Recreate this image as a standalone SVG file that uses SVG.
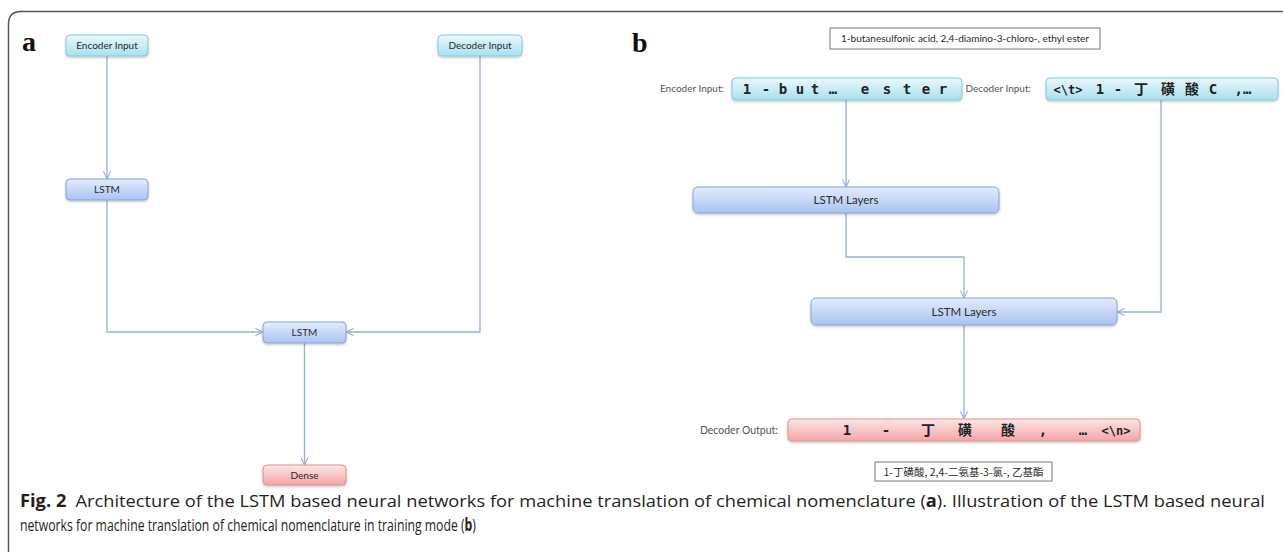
<svg xmlns="http://www.w3.org/2000/svg" width="1283" height="552" viewBox="0 0 1283 552">
<style>
.lbl{font-family:Lato,"Open Sans","Noto Sans CJK SC",sans-serif;font-size:10px;fill:#2a2a2a;text-anchor:middle}
.side{font-family:Lato,"Open Sans",sans-serif;font-size:10px;fill:#555;text-anchor:end}
.seq{font-family:"DejaVu Sans Mono","Noto Sans CJK SC",monospace;font-weight:bold;font-size:14px;fill:#222;text-anchor:middle}
.conn{fill:none;stroke:#93b1dd;stroke-width:1.3}
.panel{font-family:"Liberation Serif",serif;font-weight:bold;font-size:28px;fill:#111}
.cap{font-family:"Open Sans","Liberation Sans",sans-serif;font-size:17px;fill:#231f20}
.plain{fill:#fff;stroke:#777;stroke-width:1}
</style>
<defs>
<linearGradient id="gIn" x1="0" y1="0" x2="0" y2="1"><stop offset="0" stop-color="#eaf9fd"/><stop offset="1" stop-color="#a8e0ef"/></linearGradient>
<linearGradient id="gL" x1="0" y1="0" x2="0" y2="1"><stop offset="0" stop-color="#e4ecfc"/><stop offset="1" stop-color="#a9c3f1"/></linearGradient>
<linearGradient id="gR" x1="0" y1="0" x2="0" y2="1"><stop offset="0" stop-color="#fde6e6"/><stop offset="1" stop-color="#f3a5a5"/></linearGradient>
<filter id="sh" x="-10%" y="-30%" width="120%" height="170%"><feDropShadow dx="0" dy="1.2" stdDeviation="1" flood-color="#000" flood-opacity="0.25"/></filter>
<marker id="ar" viewBox="0 0 10 10" refX="9.5" refY="5" markerWidth="8" markerHeight="8" markerUnits="userSpaceOnUse" orient="auto"><path d="M0,0.5 L9.5,5 L0,9.5" fill="none" stroke="#93b1dd" stroke-width="1.4"/></marker>
</defs>
<rect width="1283" height="552" fill="#fff"/>
<path d="M8.5 552 V24 Q8.5 11.5 21 11.5 H1283" fill="none" stroke="#555" stroke-width="1.5"/>
<text class="panel" x="22" y="51">a</text>
<text class="panel" x="632" y="52">b</text>

<g id="connectors">
<path class="conn" d="M107 56 V179" marker-end="url(#ar)"/>
<path class="conn" d="M107 200 V332 H263" marker-end="url(#ar)"/>
<path class="conn" d="M480 56 V332 H346" marker-end="url(#ar)"/>
<path class="conn" d="M304.5 343 V465" marker-end="url(#ar)"/>
<path class="conn" d="M846 100 V187" marker-end="url(#ar)"/>
<path class="conn" d="M846 213 V257 H964 V298" marker-end="url(#ar)"/>
<path class="conn" d="M1161 100 V312 H1117" marker-end="url(#ar)"/>
<path class="conn" d="M964 325 V419" marker-end="url(#ar)"/>
</g>

<g id="a-encoder-input"><rect x="66" y="35" width="82" height="21" rx="4" fill="url(#gIn)" stroke="#86c9dc" filter="url(#sh)"/><text class="lbl" x="107" y="49">Encoder Input</text></g>
<g id="a-decoder-input"><rect x="438" y="35" width="84" height="21" rx="4" fill="url(#gIn)" stroke="#86c9dc" filter="url(#sh)"/><text class="lbl" x="480" y="49">Decoder Input</text></g>
<g id="a-lstm1"><rect x="66" y="179" width="82" height="21" rx="4" fill="url(#gL)" stroke="#86a5da" filter="url(#sh)"/><text class="lbl" x="107" y="193">LSTM</text></g>
<g id="a-lstm2"><rect x="263" y="322" width="83" height="21" rx="4" fill="url(#gL)" stroke="#86a5da" filter="url(#sh)"/><text class="lbl" x="304.5" y="336">LSTM</text></g>
<g id="a-dense"><rect x="263" y="465" width="83" height="20" rx="4" fill="url(#gR)" stroke="#e39090" filter="url(#sh)"/><text class="lbl" x="304.5" y="479">Dense</text></g>

<g id="b-source"><rect class="plain" x="830" y="28" width="270" height="21"/><text class="lbl" x="965" y="42" textLength="248" lengthAdjust="spacingAndGlyphs" style="font-size:9.5px">1-butanesulfonic acid, 2,4-diamino-3-chloro-, ethyl ester</text></g>

<g id="b-encoder-input"><text class="side" x="724" y="92">Encoder Input:</text><rect x="732" y="78" width="230" height="22" rx="4" fill="url(#gIn)" stroke="#86c9dc" filter="url(#sh)"/><text class="seq" y="94" x="747 766 783 800 815 833 865 887 907 926 943">1-but…ester</text></g>

<g id="b-decoder-input"><text class="side" x="1031" y="92">Decoder Input:</text><rect x="1046" y="78" width="232" height="22" rx="4" fill="url(#gIn)" stroke="#86c9dc" filter="url(#sh)"/><text class="seq" y="94"><tspan x="1068" style="font-size:12px">&lt;\t&gt;</tspan><tspan x="1100">1</tspan><tspan x="1118">-</tspan><tspan x="1141">丁</tspan><tspan x="1168">磺</tspan><tspan x="1192">酸</tspan><tspan x="1213">C</tspan><tspan x="1243">,…</tspan></text></g>

<g id="b-lstm1"><rect x="693" y="187" width="306" height="26" rx="5" fill="url(#gL)" stroke="#86a5da" filter="url(#sh)"/><text class="lbl" x="846" y="204" style="font-size:11.5px">LSTM Layers</text></g>
<g id="b-lstm2"><rect x="811" y="298" width="306" height="27" rx="5" fill="url(#gL)" stroke="#86a5da" filter="url(#sh)"/><text class="lbl" x="964" y="316" style="font-size:11.5px">LSTM Layers</text></g>

<g id="b-decoder-output"><text class="side" x="778" y="434" style="font-size:10.5px">Decoder Output:</text><rect x="788" y="419" width="352" height="22" rx="4" fill="url(#gR)" stroke="#e39090" filter="url(#sh)"/><text class="seq" y="435"><tspan x="847">1</tspan><tspan x="886">-</tspan><tspan x="928">丁</tspan><tspan x="965">磺</tspan><tspan x="1008">酸</tspan><tspan x="1043">,</tspan><tspan x="1083">…</tspan><tspan x="1116" style="font-size:12px">&lt;\n&gt;</tspan></text></g>

<g id="b-target"><rect class="plain" x="875" y="462" width="177" height="19"/><text class="lbl" x="963.5" y="475.5" textLength="160" lengthAdjust="spacingAndGlyphs" style="font-family:'Noto Sans CJK SC',sans-serif;font-size:10px">1-丁磺酸, 2,4-二氨基-3-氯-, 乙基酯</text></g>

<g id="caption">
<text class="cap" x="20" y="507" textLength="1245" lengthAdjust="spacingAndGlyphs"><tspan font-weight="bold">Fig. 2</tspan><tspan dx="4"> Architecture of the LSTM based neural networks for machine translation of chemical nomenclature (</tspan><tspan font-weight="bold">a</tspan>). Illustration of the LSTM based neural</text>
<text class="cap" transform="translate(20 531) scale(0.72 1)" x="0" y="0">networks for machine translation of chemical nomenclature in training mode (<tspan font-weight="bold">b</tspan>)</text>
</g>
</svg>
